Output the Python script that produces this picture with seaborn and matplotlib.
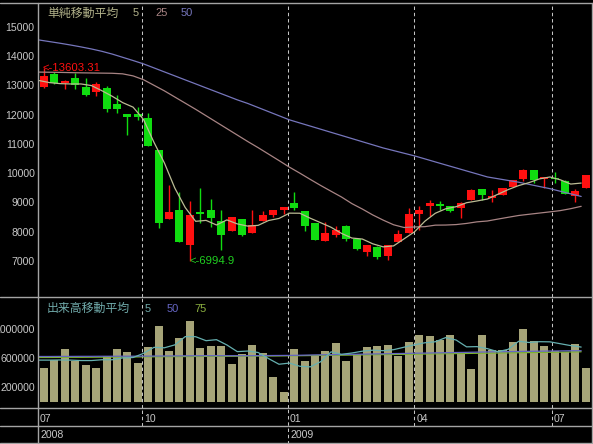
import numpy as np
import pandas as pd
import matplotlib
matplotlib.use("Agg")
import matplotlib.pyplot as plt
from matplotlib import font_manager
import seaborn as sns

# 週足 (2008/07 - 2009/07)
opens = [12947, 13385, 13068, 13239, 12932, 12772, 12908, 12373, 12032, 12022,
         11885, 10794, 8432, 8749, 7555, 8681, 8725, 8350, 8009, 8442,
         7965, 8350, 8578, 8725, 8985, 8715, 8295, 7692, 7896, 8181,
         7750, 7317, 7463, 7180, 7634, 7954, 8612, 8862, 8925, 8885,
         8795, 9090, 9465, 9160, 9237, 9523, 9806, 10113, 9800, 9845,
         9740, 9230, 9509]
highs = [13603.31, 13443, 13181, 13430, 13239, 13113, 12977, 12680, 12032, 12250,
         12046, 10794, 9601, 9373, 9032, 9509, 9113, 8749, 8510, 8442,
         8725, 8715, 8725, 8851, 9352, 8715, 8295, 8316, 8181, 8226,
         7750, 7555, 7500, 7545, 8067, 8807, 8885, 9067, 9033, 8885,
         9000, 9450, 9465, 9420, 9500, 9772, 10147, 10113, 9864, 10050,
         9760, 9460, 9942]
lows = [12898, 13034, 12864, 12864, 12646, 12646, 12090, 12066, 11306, 11817,
        10941, 8125, 8432, 7634, 6994.9, 8295, 8159, 7385, 8009, 7838,
        7952, 8350, 8487, 8612, 8730, 8009, 7726, 7692, 7833, 7668,
        7390, 7157, 7068, 7044, 7634, 7954, 8044, 8520, 8726, 8658,
        8476, 9090, 9090, 8998, 9237, 9523, 9738, 9659, 9500, 9670,
        9284, 9020, 9509]
closes = [13317, 13068, 13147, 13011, 12680, 13045, 12192, 12192, 11930, 11908,
          10941, 8295, 8681, 7634, 8578, 8589, 8453, 7896, 8500, 7896,
          8215, 8578, 8725, 8851, 8800, 8203, 7726, 7958, 8067, 7760,
          7409, 7555, 7146, 7545, 7923, 8612, 8749, 8964, 8890, 8692,
          8965, 9431, 9260, 9230, 9500, 9772, 10113, 9772, 9864, 9810,
          9284, 9390, 9942]

# 単純移動平均 5 / 25 / 50
ma5 = [13160, 13090, 13056, 13045, 13045, 12990, 12815, 12624, 12408, 12253,
       11833, 11053, 10351, 9492, 8826, 8355, 8387, 8230, 8403, 8267,
       8192, 8217, 8383, 8453, 8634, 8631, 8461, 8308, 8151, 7943,
       7784, 7750, 7587, 7483, 7516, 7756, 7995, 8359, 8630, 8783,
       8854, 8990, 9050, 9116, 9277, 9439, 9575, 9677, 9804, 9869,
       9772, 9627, 9661]
ma25 = [13450, 13445, 13440, 13432, 13425, 13420, 13415, 13410, 13390, 13320,
        13190, 13000, 12810, 12600, 12390, 12180, 11960, 11740, 11520, 11300,
        11080, 10870, 10650, 10430, 10205, 10000, 9787, 9579, 9381, 9185,
        8959, 8774, 8572, 8396, 8237, 8144, 8162, 8173, 8224, 8228,
        8244, 8283, 8337, 8366, 8431, 8493, 8554, 8596, 8637, 8678,
        8721, 8787, 8867]
ma50 = [14545, 14490, 14435, 14375, 14310, 14240, 14160, 14065, 13955, 13845,
        13730, 13594, 13457, 13321, 13184, 13048, 12911, 12775, 12639, 12502,
        12380, 12240, 12100, 11960, 11820, 11713, 11607, 11500, 11393, 11287,
        11180, 11073, 10967, 10860, 10770, 10680, 10590, 10487, 10383, 10280,
        10178, 10075, 9973, 9870, 9810, 9750, 9690, 9617, 9543, 9470,
        9381, 9293, 9204]

# 出来高 (千株)
volume_k = [470, 577, 728, 563, 508, 470, 632, 728, 687, 540,
            752, 1046, 701, 884, 1114, 746, 770, 770, 521, 655,
            783, 673, 346, 135, 732, 563, 632, 701, 815, 563,
            655, 756, 770, 783, 632, 825, 921, 907, 857, 921,
            655, 452, 921, 714, 714, 820, 1004, 838, 770, 701,
            692, 797, 470]
vol_ma5_k = [575, 575, 577, 575, 569, 569, 580, 580, 605, 611,
             668, 751, 745, 785, 899, 898, 843, 857, 784, 692,
             700, 680, 596, 518, 534, 490, 482, 553, 689, 655,
             673, 698, 712, 705, 719, 753, 786, 814, 828, 886,
             852, 758, 761, 733, 691, 724, 835, 818, 829, 827,
             801, 775, 755]
vol_ma50_k = [625, 625, 626, 626, 627, 627, 628, 628, 629, 629,
              630, 631, 632, 633, 634, 635, 636, 636, 636, 636,
              636, 637, 638, 639, 640, 642, 645, 648, 650, 652,
              655, 657, 660, 662, 665, 667, 670, 672, 675, 677,
              680, 682, 685, 688, 690, 692, 694, 696, 698, 700,
              702, 704, 705]
vol_ma75_k = [612, 612, 613, 614, 614, 615, 616, 617, 618, 619,
              620, 621, 622, 623, 624, 625, 626, 627, 628, 629,
              630, 631, 632, 633, 635, 636, 638, 640, 641, 643,
              645, 647, 649, 651, 653, 655, 657, 659, 661, 663,
              665, 667, 669, 671, 673, 675, 677, 679, 681, 683,
              685, 687, 690]

price_ticks = [7000, 8000, 9000, 10000, 11000, 12000, 13000, 14000, 15000]
volume_ticks = [200000, 600000, 1000000]
month_labels = ["07", "10", "01", "04", "07"]
year_labels = ["2008", "2009"]

# layout
W, H = 593, 444
MONTH_MARKS = [9.38, 23.41, 35.54, 48.72]
YEAR_MARK = 23.41
XLIM = (-0.605, 52.56)

BG = "black"
FRAME = "#a4a4a4"
DASH = "#c4c4c4"
TXT = "#c8c8c8"
UP = "#ff1010"
DOWN = "#10dd10"
C_MA5 = "#bcbc94"
C_MA25 = "#a88484"
C_MA50 = "#7676bc"
C_VOL = "#a6a478"
C_VMA5 = "#66b0b0"
C_VMA50 = "#6666c4"
C_VMA75 = "#7cb42c"

sns.set_style("dark", {"axes.facecolor": BG, "figure.facecolor": BG})
available = {f.name for f in font_manager.fontManager.ttflist}
if "Liberation Sans Narrow" in available:
    NUM_FONT, NUM_SIZE = "Liberation Sans Narrow", 9.0
else:
    NUM_FONT, NUM_SIZE = "Liberation Sans", 7.6
JP_FONT = ["Noto Sans CJK JP", "DejaVu Sans"]
plt.rcParams["font.family"] = JP_FONT


def px_axes(fig, left, top, right, bottom):
    return fig.add_axes([left / W, 1 - bottom / H, (right - left) / W, (bottom - top) / H])


fig = plt.figure(figsize=(W / 100, H / 100), dpi=100, facecolor=BG)
ax = px_axes(fig, 37.7, 3.3, 591.7, 297)
axv = px_axes(fig, 37.7, 297, 591.7, 408)
axd = px_axes(fig, 37.7, 408, 591.7, 444)

idx = np.arange(len(closes))
df = pd.DataFrame({"i": idx, "o": opens, "h": highs, "l": lows, "c": closes})
colors = np.where(df["c"] >= df["o"], UP, DOWN)
ma_x = idx - 0.45

# ---- price panel
ax.vlines(df["i"], df["l"], df["h"], colors=colors, lw=1.0, zorder=2)
body_lo = np.minimum(df["o"], df["c"])
body_h = np.maximum((df["c"] - df["o"]).abs(), 40)
ax.bar(df["i"], body_h, bottom=body_lo, width=0.77, color=colors, linewidth=0, zorder=3)

for vals, col in [(ma50, C_MA50), (ma25, C_MA25), (ma5, C_MA5)]:
    sns.lineplot(x=ma_x, y=vals, ax=ax, color=col, lw=0.9, estimator=None, sort=False, zorder=4)

hi = int(np.argmax(highs))
lo = int(np.argmin(lows))
ax.text(hi - 0.1, highs[hi], "<-" + str(highs[hi]), color=UP, va="center", ha="left",
        family=NUM_FONT, fontsize=NUM_SIZE + 0.6, zorder=5)
ax.text(lo + 0.01, lows[lo], "<-" + str(lows[lo]), color="#20d020", va="center", ha="left",
        family=NUM_FONT, fontsize=NUM_SIZE + 0.6, zorder=5)

ax.set_ylim(5771, 15799)
ax.set_yticks(price_ticks)
ax.set_yticklabels([str(t) for t in price_ticks])

# ---- volume panel
sns.barplot(x=idx, y=np.array(volume_k) * 1000, ax=axv, color=C_VOL, saturation=1,
            width=0.77, native_scale=True, errorbar=None, linewidth=0, zorder=2)
for vals, col in [(vol_ma75_k, C_VMA75), (vol_ma50_k, C_VMA50), (vol_ma5_k, C_VMA5)]:
    sns.lineplot(x=ma_x, y=np.array(vals) * 1000, ax=axv, color=col, lw=0.9,
                 estimator=None, sort=False, zorder=4)
axv.set_ylim(-85500, 1445500)
axv.set_yticks(volume_ticks)
axv.set_yticklabels([str(t) for t in volume_ticks])

for a in (ax, axv, axd):
    a.set_xlim(*XLIM)
    a.set_xticks([])
    a.set_xlabel("")
    a.set_ylabel("")
    a.grid(False)
    a.set_facecolor(BG)
    for s in a.spines.values():
        s.set_visible(False)
    a.tick_params(axis="y", length=0, pad=2.2, labelcolor=TXT,
                  labelsize=NUM_SIZE, labelfontfamily=NUM_FONT)
    for m in MONTH_MARKS:
        ymin = 0 if (a is axd and m == YEAR_MARK) else (0.5 if a is axd else 0)
        a.axvline(m, ymin=ymin, ymax=1, color=DASH, lw=0.75, ls=(0, (3.3, 2.7)), zorder=1)

axd.set_ylim(0, 1)
axd.set_yticks([])
label_pos = [-0.38] + [m + 0.2 for m in MONTH_MARKS]
for lab, p in zip(month_labels, label_pos):
    axd.text(p, 0.69, lab, color=TXT, va="center", ha="left", family=NUM_FONT, fontsize=NUM_SIZE)
for lab, p in zip(year_labels, [-0.38, YEAR_MARK + 0.2]):
    axd.text(p, 0.24, lab, color=TXT, va="center", ha="left", family=NUM_FONT, fontsize=NUM_SIZE)

# ---- frame + panel titles (pixel coords)
ov = fig.add_axes([0, 0, 1, 1], zorder=10)
ov.set_xlim(0, W)
ov.set_ylim(H, 0)
ov.axis("off")
ov.patch.set_alpha(0)
for yy in [3.3, 297, 408, 426, 442.7]:
    ov.plot([0, W], [yy, yy], color=FRAME, lw=1.0)
for xx in [37.7, 591.7]:
    ov.plot([xx, xx], [3.3, 442.7], color=FRAME, lw=1.0)

ov.text(47, 13.5, "単純移動平均", color="#b2b28a", fontsize=8.6, va="center", ha="left")
for lab, xx, col in [("5", 133, "#b2b28a"), ("25", 155, C_MA25), ("50", 181, C_MA50)]:
    ov.text(xx, 13.5, lab, color=col, fontsize=NUM_SIZE + 0.4, family=NUM_FONT, va="center", ha="left")
ov.text(47, 308.5, "出来高移動平均", color="#70aaaa", fontsize=8.6, va="center", ha="left")
for lab, xx, col in [("5", 145, "#70aaaa"), ("50", 167, C_VMA50), ("75", 194, "#8cb040")]:
    ov.text(xx, 308.5, lab, color=col, fontsize=NUM_SIZE + 0.4, family=NUM_FONT, va="center", ha="left")

fig.savefig("out.png", dpi=100, facecolor=BG)
